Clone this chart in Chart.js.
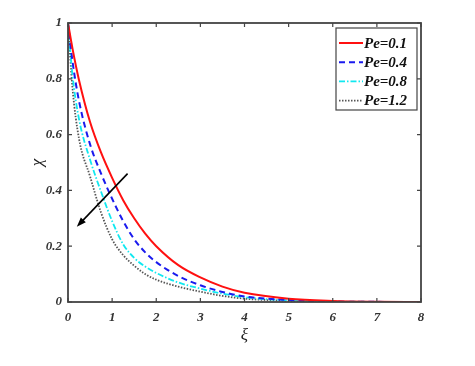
<!DOCTYPE html>
<html>
<head>
<meta charset="utf-8">
<script src="https://cdn.jsdelivr.net/npm/chart.js@4/dist/chart.umd.min.js"></script>
<style>
  html, body { margin: 0; padding: 0; background: #fff; }
  #wrap { width: 475px; height: 366px; }
</style>
</head>
<body>
<div id="wrap"><canvas id="chart" width="475" height="366"></canvas></div>
<script>
const xi = [0, 0.1, 0.25, 0.5, 0.75, 1, 1.25, 1.5, 1.75, 2, 2.5, 3, 3.5, 4, 5, 6, 7, 8];
const pe01 = [1, 0.91, 0.795, 0.645, 0.535, 0.445, 0.365, 0.30, 0.245, 0.20, 0.132, 0.088, 0.055, 0.033, 0.012, 0.004, 0.001, 0];
const pe04 = [1, 0.865, 0.72, 0.565, 0.46, 0.37, 0.29, 0.225, 0.178, 0.143, 0.093, 0.06, 0.036, 0.02, 0.007, 0.002, 0.0005, 0];
const pe08 = [1, 0.815, 0.655, 0.51, 0.395, 0.29, 0.207, 0.158, 0.127, 0.104, 0.07, 0.048, 0.03, 0.017, 0.006, 0.002, 0.0005, 0];
const pe12 = [1, 0.77, 0.585, 0.45, 0.32, 0.225, 0.168, 0.13, 0.10, 0.08, 0.055, 0.037, 0.022, 0.012, 0.004, 0.001, 0, 0];
const seriesLabels = ["Pe=0.1", "Pe=0.4", "Pe=0.8", "Pe=1.2"];
const xTicks = [0, 1, 2, 3, 4, 5, 6, 7, 8];
const yTicks = [0, 0.2, 0.4, 0.6, 0.8, 1];
const yTickLabels = ["0", "0.2", "0.4", "0.6", "0.8", "1"];
const arrowFrom = [1.35, 0.46];
const arrowTo = [0.2, 0.27];

const AXIS = "#444";
const tickFont = { family: "'Liberation Serif', 'Times New Roman', serif", style: "italic", weight: "bold", size: 13 };

function pts(ys) {
  return xi.map((x, i) => ({ x, y: ys[i] }));
}

// box, inward ticks, arrow and legend drawn on top of the plot
const decorations = {
  id: "decorations",
  afterDatasetsDraw(chart) {
    const { ctx, chartArea: a, scales } = chart;
    const xs = scales.x, ys = scales.y;
    ctx.save();

    // arrow
    const x1 = xs.getPixelForValue(arrowFrom[0]), y1 = ys.getPixelForValue(arrowFrom[1]);
    const x2 = xs.getPixelForValue(arrowTo[0]), y2 = ys.getPixelForValue(arrowTo[1]);
    const ang = Math.atan2(y2 - y1, x2 - x1);
    ctx.strokeStyle = "#000";
    ctx.fillStyle = "#000";
    ctx.lineWidth = 1.6;
    ctx.beginPath();
    ctx.moveTo(x1, y1);
    ctx.lineTo(x2 - 6 * Math.cos(ang), y2 - 6 * Math.sin(ang));
    ctx.stroke();
    ctx.beginPath();
    ctx.moveTo(x2, y2);
    ctx.lineTo(x2 - 10 * Math.cos(ang - 0.35), y2 - 10 * Math.sin(ang - 0.35));
    ctx.lineTo(x2 - 10 * Math.cos(ang + 0.35), y2 - 10 * Math.sin(ang + 0.35));
    ctx.closePath();
    ctx.fill();

    // axes box + inward ticks
    ctx.strokeStyle = AXIS;
    ctx.lineWidth = 1.8;
    ctx.strokeRect(a.left, a.top, a.right - a.left, a.bottom - a.top);
    ctx.lineWidth = 1.2;
    ctx.beginPath();
    xTicks.forEach((v) => {
      const px = xs.getPixelForValue(v);
      ctx.moveTo(px, a.bottom); ctx.lineTo(px, a.bottom - 4);
      ctx.moveTo(px, a.top); ctx.lineTo(px, a.top + 4);
    });
    yTicks.forEach((v) => {
      const py = ys.getPixelForValue(v);
      ctx.moveTo(a.left, py); ctx.lineTo(a.left + 4, py);
      ctx.moveTo(a.right, py); ctx.lineTo(a.right - 4, py);
    });
    ctx.stroke();

    // legend
    const lx = 336, ly = 28, lw = 81, lh = 82;
    ctx.fillStyle = "#fff";
    ctx.fillRect(lx, ly, lw, lh);
    ctx.strokeStyle = AXIS;
    ctx.lineWidth = 1.2;
    ctx.strokeRect(lx, ly, lw, lh);
    ctx.font = "italic bold 15px 'Liberation Serif', serif";
    ctx.textBaseline = "middle";
    chart.data.datasets.forEach((ds, i) => {
      const ry = ly + 15 + i * 19.2;
      ctx.strokeStyle = ds.borderColor;
      ctx.lineWidth = ds.borderWidth;
      ctx.setLineDash(ds.borderDash || []);
      ctx.beginPath();
      ctx.moveTo(lx + 3, ry);
      ctx.lineTo(lx + 27, ry);
      ctx.stroke();
      ctx.setLineDash([]);
      ctx.fillStyle = "#111";
      ctx.fillText(ds.label, lx + 28, ry + 1);
    });
    ctx.restore();
  },
};

new Chart(document.getElementById("chart").getContext("2d"), {
  type: "line",
  data: {
    datasets: [
      { label: seriesLabels[0], data: pts(pe01), borderColor: "#ff1010", borderWidth: 2, borderDash: [] },
      { label: seriesLabels[1], data: pts(pe04), borderColor: "#1a1aee", borderWidth: 2, borderDash: [6, 4] },
      { label: seriesLabels[2], data: pts(pe08), borderColor: "#10e8f0", borderWidth: 1.8, borderDash: [6, 2, 1.5, 2] },
      { label: seriesLabels[3], data: pts(pe12), borderColor: "#555", borderWidth: 1.8, borderDash: [1.5, 1.5] },
    ],
  },
  options: {
    responsive: false,
    animation: false,
    layout: { padding: { top: 23, right: 54, left: 0, bottom: 0 } },
    elements: {
      point: { radius: 0 },
      line: { cubicInterpolationMode: "monotone", fill: false },
    },
    plugins: { legend: { display: false }, tooltip: { enabled: false } },
    scales: {
      x: {
        type: "linear",
        min: 0,
        max: 8,
        afterBuildTicks: (s) => { s.ticks = xTicks.map((v) => ({ value: v })); },
        afterFit: (s) => { s.height = 64; },
        grid: { display: true, drawOnChartArea: false, drawTicks: false },
        border: { display: false },
        ticks: { font: tickFont, color: "#333", padding: 8, maxRotation: 0 },
        title: {
          display: true,
          text: "ξ",
          font: { family: "'Liberation Serif', serif", style: "italic", size: 17 },
          color: "#222",
          padding: { top: 0, bottom: 20 },
        },
      },
      y: {
        min: 0,
        max: 1,
        afterBuildTicks: (s) => { s.ticks = yTicks.map((v) => ({ value: v })); },
        afterFit: (s) => { s.width = 68; },
        grid: { display: true, drawOnChartArea: false, drawTicks: false },
        border: { display: false },
        ticks: {
          font: tickFont,
          color: "#333",
          padding: 6,
          callback: (v) => yTickLabels[yTicks.indexOf(v)] ?? "",
        },
        title: {
          display: true,
          text: "χ",
          font: { family: "'Liberation Serif', serif", style: "italic", size: 17 },
          color: "#222",
          padding: { top: 27, bottom: 0 },
        },
      },
    },
  },
  plugins: [decorations],
});
</script>
</body>
</html>
